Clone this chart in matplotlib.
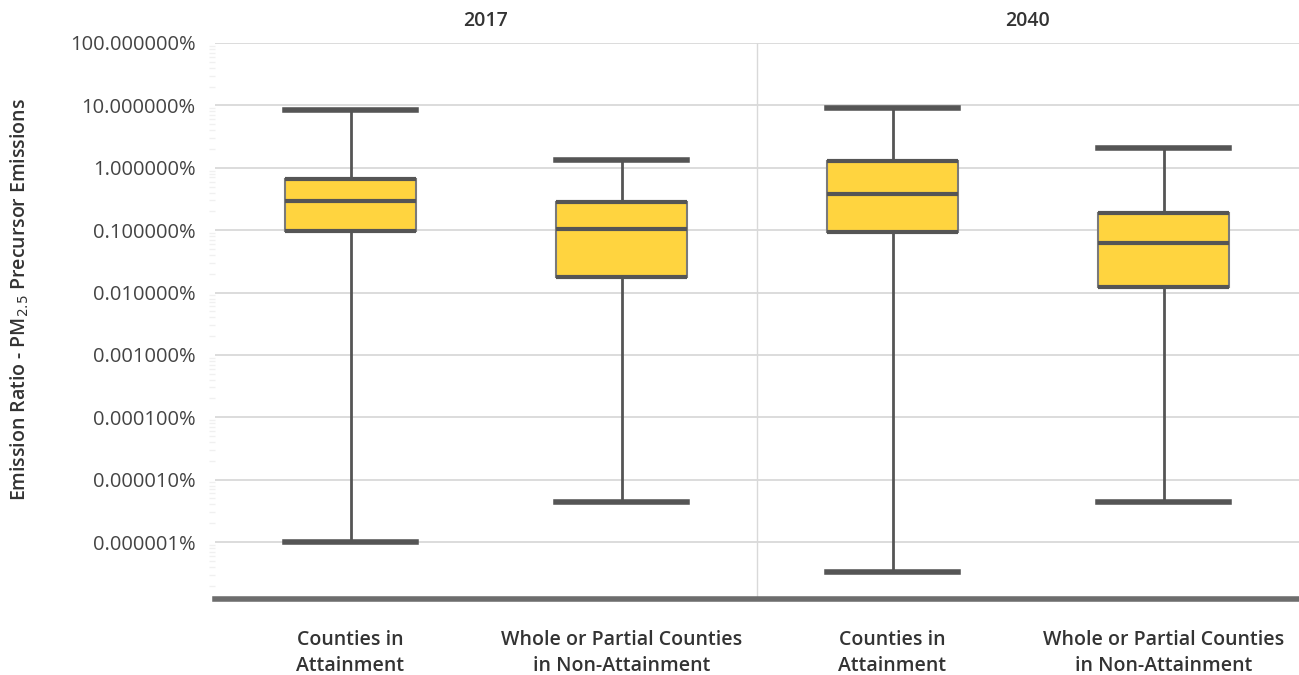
import numpy as np
import matplotlib.pyplot as plt
from matplotlib.ticker import FixedLocator, LogLocator, NullFormatter

# Values in percent
years = ["2017", "2040"]
categories = ["Counties in\nAttainment", "Whole or Partial Counties\nin Non-Attainment"]
whisker_low = [1.0e-6, 4.4e-6, 3.3e-7, 4.3e-6]
q1 = [0.098, 0.018, 0.095, 0.0124]
median = [0.296, 0.105, 0.383, 0.063]
q3 = [0.667, 0.285, 1.29, 0.19]
whisker_high = [8.4, 1.34, 9.1, 2.09]
tick_values = [1e-6, 1e-5, 1e-4, 1e-3, 1e-2, 1e-1, 1, 10, 100]

plt.rcParams['font.family'] = ['Open Sans', 'DejaVu Sans']

fig = plt.figure(figsize=(12.99, 6.75), dpi=100)
ax = fig.add_axes([215 / 1299, 1 - 599 / 675, 1 - 215 / 1299, (599 - 43) / 675])

positions = [0.5, 1.5, 2.5, 3.5]
box_w = 0.48
stats = []
for i in range(4):
    stats.append(dict(whislo=whisker_low[i], q1=q1[i], med=median[i],
                      q3=q3[i], whishi=whisker_high[i], fliers=[]))

dark = '#555555'
ax.bxp(stats, positions=positions, widths=box_w, patch_artist=True,
       showfliers=False, manage_ticks=False,
       boxprops=dict(facecolor='#FFD43F', edgecolor='#7a7a7a', linewidth=1.5),
       medianprops=dict(color=dark, linewidth=3),
       whiskerprops=dict(color=dark, linewidth=2),
       capprops=dict(color=dark, linewidth=4),
       capwidths=box_w, zorder=3)

# thicker top/bottom edges of the box
for i, p in enumerate(positions):
    ax.hlines([q1[i], q3[i]], p - box_w / 2, p + box_w / 2, color=dark, linewidth=3, zorder=4)

ax.set_yscale('log')
ax.set_ylim(1.22e-7, 100)
ax.set_xlim(0, 4)

ax.yaxis.set_major_locator(FixedLocator(tick_values))
ax.set_yticks(tick_values)
ax.set_yticklabels([f"{v:.6f}%" for v in tick_values])
ax.yaxis.set_minor_locator(LogLocator(base=10, subs=np.arange(2, 10), numticks=20))
ax.yaxis.set_minor_formatter(NullFormatter())
ax.tick_params(axis='y', which='major', length=0, pad=14, labelsize=14.5, labelcolor='#444444')
ax.tick_params(axis='y', which='minor', length=4, color='#f0f0f0', width=1)
ax.grid(axis='y', which='major', color='#d9d9d9', linewidth=1.3, zorder=0)
ax.set_axisbelow(True)

ax.axvline(2, color='#d9d9d9', linewidth=1, zorder=1)

ax.set_xticks(positions)
ax.set_xticklabels(categories * 2, fontsize=14, color='#333333', fontweight='semibold',
                   linespacing=1.4)
ax.tick_params(axis='x', length=0, pad=22)

for s in ['top', 'right', 'left']:
    ax.spines[s].set_visible(False)
ax.spines['bottom'].set_color('#6d6d6d')
ax.spines['bottom'].set_linewidth(4)

for j, yr in enumerate(years):
    ax.text(1 + 2 * j, 1.04, yr, transform=ax.get_xaxis_transform(), ha='center',
            va='center', fontsize=14, fontweight='semibold', color='#333333')

fig.text(20 / 1299, 1 - 300 / 675, "Emission Ratio - PM$_{2.5}$ Precursor Emissions",
         rotation=90, ha='center', va='center', fontsize=14, fontweight='semibold',
         color='#333333')

fig.savefig('out.png', dpi=100)
